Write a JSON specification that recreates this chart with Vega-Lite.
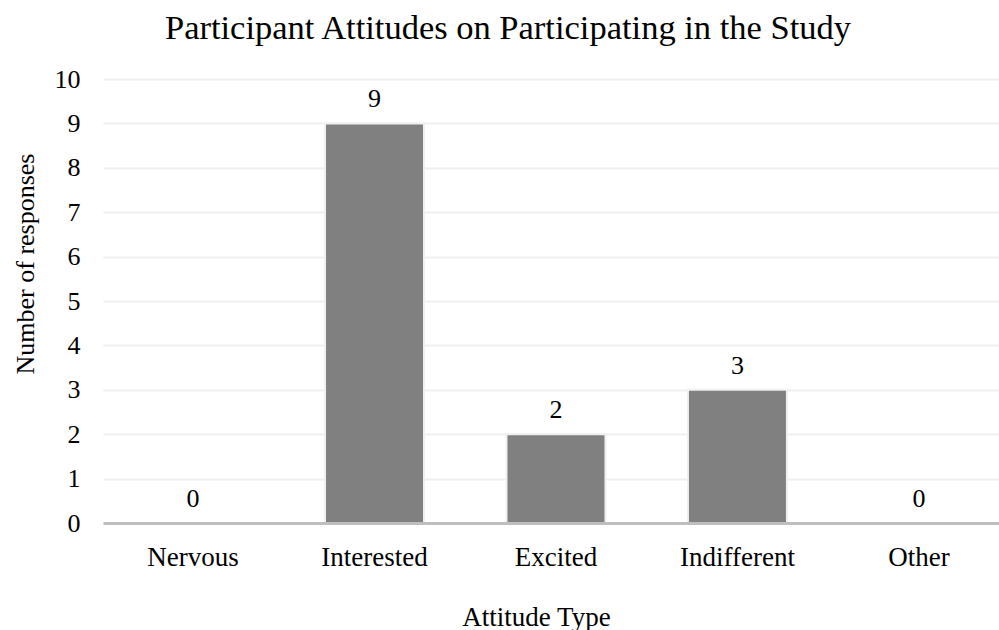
{
  "$schema": "https://vega.github.io/schema/vega-lite/v6.json",
  "autosize": "none",
  "padding": {"left": 103, "top": 79, "right": 0, "bottom": 107},
  "width": 896,
  "height": 444,
  "background": "white",
  "title": {
    "text": "Participant Attitudes on Participating in the Study",
    "font": "Liberation Serif",
    "fontSize": 34.5,
    "fontWeight": "normal",
    "color": "#000000",
    "anchor": "middle",
    "frame": "group",
    "baseline": "alphabetic",
    "offset": -7,
    "dx": -43
  },
  "data": {
    "values": [
      {"attitude": "Nervous", "count": 0},
      {"attitude": "Interested", "count": 9},
      {"attitude": "Excited", "count": 2},
      {"attitude": "Indifferent", "count": 3},
      {"attitude": "Other", "count": 0}
    ]
  },
  "encoding": {
    "x": {
      "field": "attitude",
      "type": "nominal",
      "sort": null,
      "scale": {"paddingInner": 0.4545, "paddingOuter": 0.196, "align": 0.57},
      "axis": {
        "title": "Attitude Type",
        "zindex": 1,
        "labelAngle": 0,
        "labelFont": "Liberation Serif",
        "labelFontSize": 27,
        "labelColor": "#000000",
        "labelBaseline": "alphabetic",
        "labelPadding": 42,
        "ticks": false,
        "domainColor": "#bfbfbf",
        "domainWidth": 3,
        "grid": false,
        "titleFont": "Liberation Serif",
        "titleFontSize": 27,
        "titleFontWeight": "normal",
        "titleColor": "#000000",
        "titleBaseline": "alphabetic",
        "titleAlign": "center",
        "titleX": 433,
        "titleY": 102
      }
    },
    "y": {
      "field": "count",
      "type": "quantitative",
      "scale": {"domain": [0, 10], "nice": false},
      "axis": {
        "title": "Number of responses",
        "values": [0, 1, 2, 3, 4, 5, 6, 7, 8, 9, 10],
        "labelFont": "Liberation Serif",
        "labelFontSize": 26,
        "labelColor": "#000000",
        "labelPadding": 23,
        "ticks": false,
        "domain": false,
        "grid": true,
        "gridColor": "#efefef",
        "gridWidth": 2,
        "titleFont": "Liberation Serif",
        "titleFontSize": 26,
        "titleFontWeight": "normal",
        "titleColor": "#000000",
        "titleAngle": 270,
        "titleBaseline": "alphabetic",
        "titleAlign": "center",
        "titleX": -70,
        "titleY": 184.5
      }
    }
  },
  "layer": [
    {
      "mark": {"type": "bar", "color": "#808080", "stroke": "#f0f0f0", "strokeWidth": 2}
    },
    {
      "mark": {
        "type": "text",
        "font": "Liberation Serif",
        "fontSize": 26,
        "color": "#000000",
        "baseline": "alphabetic",
        "dy": -16
      },
      "encoding": {"text": {"field": "count", "type": "quantitative"}}
    }
  ],
  "config": {"view": {"stroke": null}}
}
